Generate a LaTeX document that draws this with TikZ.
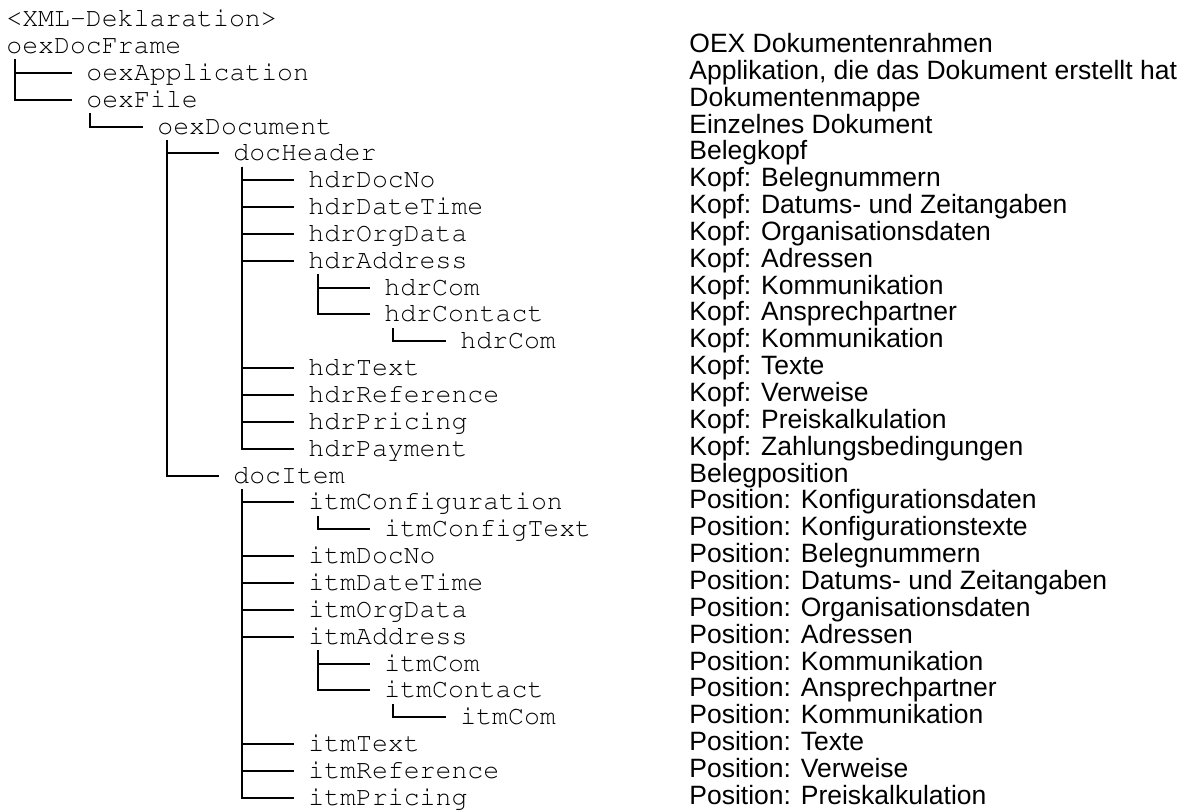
\documentclass[tikz,border=0pt]{standalone}
\usepackage{fontspec}
\setsansfont{Liberation Sans}
\newcommand\courierfont{\fontencoding{T1}\fontfamily{pcr}\selectfont}
\tikzset{
  xmltag/.style={font=\courierfont\fontsize{13.25}{14}\selectfont,anchor=base west,inner sep=0pt,text height=7.5pt,text depth=0pt},
  xmldesc/.style={font=\sffamily\fontsize{13.25}{14}\selectfont,anchor=base west,inner sep=0pt},
  branch/.style={line width=1pt}
}
\begin{document}
\begin{tikzpicture}[x=0.5pt,y=-0.5pt]
\useasboundingbox (0,0) rectangle (1187,811);
\node[xmltag] (decl) at (6,26.6) {<XML-Deklaration>};
% tree rows: row/name/level/element/description
\foreach \xrow/\xname/\xlev/\xtag/\xnote in {
  1/frame/0/oexDocFrame/OEX Dokumentenrahmen,
  2/app/1/oexApplication/{Applikation, die das Dokument erstellt hat},
  3/file/1/oexFile/Dokumentenmappe,
  4/doc/2/oexDocument/Einzelnes Dokument,
  5/header/3/docHeader/Belegkopf,
  6/hdrDocNo/4/hdrDocNo/Kopf: Belegnummern,
  7/hdrDateTime/4/hdrDateTime/Kopf: Datums- und Zeitangaben,
  8/hdrOrgData/4/hdrOrgData/Kopf: Organisationsdaten,
  9/hdrAddress/4/hdrAddress/Kopf: Adressen,
  10/hdrComA/5/hdrCom/Kopf: Kommunikation,
  11/hdrContact/5/hdrContact/Kopf: Ansprechpartner,
  12/hdrComB/6/hdrCom/Kopf: Kommunikation,
  13/hdrText/4/hdrText/Kopf: Texte,
  14/hdrReference/4/hdrReference/Kopf: Verweise,
  15/hdrPricing/4/hdrPricing/Kopf: Preiskalkulation,
  16/hdrPayment/4/hdrPayment/Kopf: Zahlungsbedingungen,
  17/item/3/docItem/Belegposition,
  18/itmConfiguration/4/itmConfiguration/Position: Konfigurationsdaten,
  19/itmConfigText/5/itmConfigText/Position: Konfigurationstexte,
  20/itmDocNo/4/itmDocNo/Position: Belegnummern,
  21/itmDateTime/4/itmDateTime/Position: Datums- und Zeitangaben,
  22/itmOrgData/4/itmOrgData/Position: Organisationsdaten,
  23/itmAddress/4/itmAddress/Position: Adressen,
  24/itmComA/5/itmCom/Position: Kommunikation,
  25/itmContact/5/itmContact/Position: Ansprechpartner,
  26/itmComB/6/itmCom/Position: Kommunikation,
  27/itmText/4/itmText/Position: Texte,
  28/itmReference/4/itmReference/Position: Verweise,
  29/itmPricing/4/itmPricing/Position: Preiskalkulation}{
  \pgfmathsetmacro\by{26.6+26.85*\xrow}
  \pgfmathsetmacro\tx{{8,88,159,235,310,386,462}[\xlev]-2}
  \pgfmathsetmacro\vx{{15,90,167,242,318,393,468}[\xlev]}
  \node[xmltag] (\xname) at (\tx,\by) {\xtag};
  \node[xmldesc] (\xname-d) at (689,\by-1) {\xnote};
  \coordinate (\xname-v) at (\vx,\by+6);
}
% branches
\foreach \p/\c in {frame/app,frame/file,file/doc,doc/header,doc/item,
  header/hdrDocNo,header/hdrDateTime,header/hdrOrgData,header/hdrAddress,
  header/hdrText,header/hdrReference,header/hdrPricing,header/hdrPayment,
  hdrAddress/hdrComA,hdrAddress/hdrContact,hdrContact/hdrComB,
  item/itmConfiguration,itmConfiguration/itmConfigText,item/itmDocNo,
  item/itmDateTime,item/itmOrgData,item/itmAddress,itmAddress/itmComA,
  itmAddress/itmContact,itmContact/itmComB,item/itmText,item/itmReference,
  item/itmPricing}
  \draw[branch] (\p-v) |- ([xshift=-7pt]\c.west);
\end{tikzpicture}
\end{document}
